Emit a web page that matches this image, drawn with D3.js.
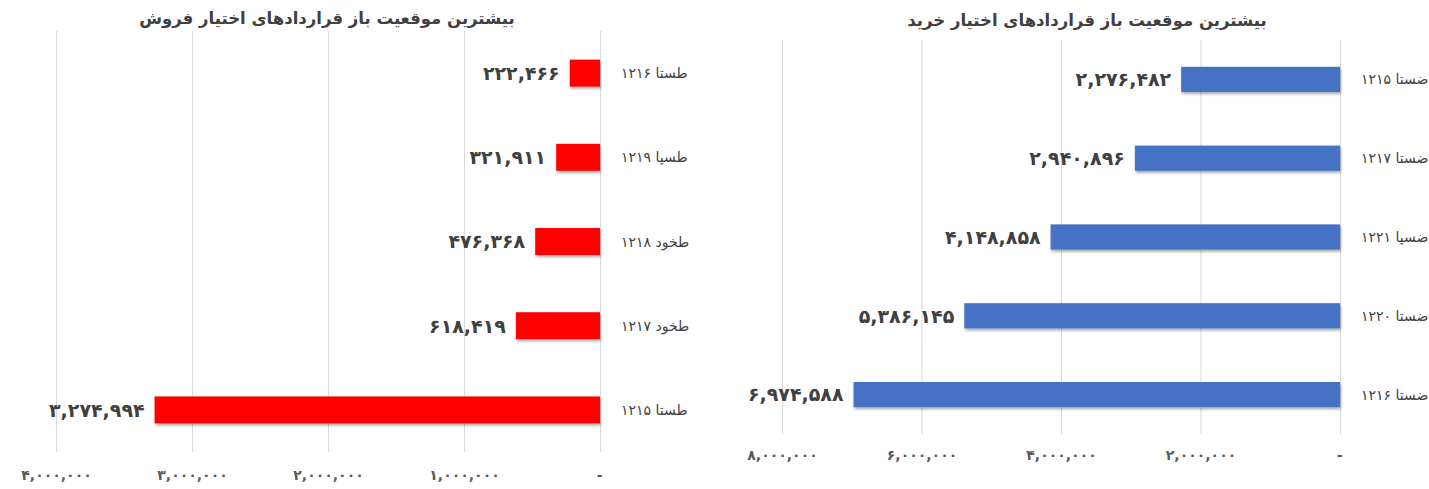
<!DOCTYPE html>
<html lang="fa">
<head>
<meta charset="UTF-8"/>
<title>Open interest</title>
<script src="https://d3js.org/d3.v7.min.js"></script>
<style>
  body { margin: 0; background: #fff; }
  svg text { font-family: "DejaVu Sans", sans-serif; }
</style>
</head>
<body>
<script>
var w = 1429, h = 489;

// sell (put) options - left chart
var sellTitle = "بیشترین موقعیت باز قراردادهای اختیار فروش";
var sellCategories = ["طستا ۱۲۱۶", "طسپا ۱۲۱۹", "طخود ۱۲۱۸", "طخود ۱۲۱۷", "طستا ۱۲۱۵"];
var sellValues = [222466, 321911, 476368, 618419, 3274994];
var sellTicks = [0, 1000000, 2000000, 3000000, 4000000];

// buy (call) options - right chart
var buyTitle = "بیشترین موقعیت باز قراردادهای اختیار خرید";
var buyCategories = ["ضستا ۱۲۱۵", "ضستا ۱۲۱۷", "ضسپا ۱۲۲۱", "ضستا ۱۲۲۰", "ضستا ۱۲۱۶"];
var buyValues = [2276482, 2940896, 4148858, 5386145, 6974588];
var buyTicks = [0, 2000000, 4000000, 6000000, 8000000];

var faDigits = "۰۱۲۳۴۵۶۷۸۹";
function toFa(s) {
    return String(s).replace(/[0-9]/g, function(c) { return faDigits[+c]; });
}
var fmt = d3.format(",");

var svg = d3.select("body").append("svg")
    .attr("width", w)
    .attr("height", h);

var defs = svg.append("defs");
var shadow = defs.append("filter").attr("id", "shadow")
    .attr("x", "-5%").attr("y", "-20%").attr("width", "110%").attr("height", "150%");
shadow.append("feDropShadow")
    .attr("dx", 1).attr("dy", 2).attr("stdDeviation", 1.5)
    .attr("flood-color", "#000").attr("flood-opacity", 0.35);

function drawChart(opt) {
    var x = d3.scaleLinear()
        .domain([0, opt.ticks[opt.ticks.length - 1]])
        .range([opt.zeroX, opt.maxX]);

    var y = d3.scaleBand()
        .domain(opt.categories)
        .range([opt.top, opt.bottom])
        .paddingInner(opt.pad)
        .paddingOuter(opt.pad / 2);

    var g = svg.append("g");

    // gridlines + tick labels
    var axis = d3.axisBottom(x)
        .tickValues(opt.ticks)
        .tickSize(-(opt.bottom - opt.top))
        .tickPadding(opt.labelGap)
        .tickFormat(function(d) { return d === 0 ? "-" : toFa(fmt(d)); });

    var ax = g.append("g")
        .attr("transform", "translate(0," + opt.bottom + ")")
        .call(axis);
    ax.select(".domain").remove();
    ax.selectAll("line").attr("stroke", "#d9d9d9");
    ax.selectAll("text")
        .attr("fill", "#595959")
        .attr("font-size", "14px")
        .attr("font-weight", "bold")
        .attr("letter-spacing", "1.5px")
        .style("font-family", "DejaVu Sans, sans-serif");

    // bars
    g.selectAll("rect.bar")
        .data(opt.values)
        .enter()
        .append("rect")
        .attr("class", "bar")
        .attr("x", function(d) { return x(d); })
        .attr("y", function(d, i) { return y(opt.categories[i]); })
        .attr("width", function(d) { return x(0) - x(d); })
        .attr("height", y.bandwidth())
        .attr("fill", opt.color)
        .attr("filter", "url(#shadow)");

    // value labels
    g.selectAll("text.val")
        .data(opt.values)
        .enter()
        .append("text")
        .attr("class", "val")
        .attr("x", function(d) { return x(d) - 10; })
        .attr("y", function(d, i) { return y(opt.categories[i]) + y.bandwidth() / 2; })
        .attr("dy", "0.36em")
        .attr("text-anchor", "end")
        .attr("font-size", "19px")
        .attr("font-weight", "bold")
        .attr("fill", "#404040")
        .text(function(d) { return toFa(fmt(d)); });

    // category labels (rtl, left edge next to the axis)
    g.selectAll("text.cat")
        .data(opt.categories)
        .enter()
        .append("text")
        .attr("class", "cat")
        .attr("x", opt.zeroX + 21)
        .attr("y", function(d) { return y(d) + y.bandwidth() / 2; })
        .attr("dy", "0.36em")
        .attr("direction", "rtl")
        .attr("text-anchor", "end")
        .attr("font-size", "14px")
        .attr("fill", "#404040")
        .text(function(d) { return d; });

    // title
    g.append("text")
        .attr("x", opt.titleX)
        .attr("y", opt.titleY)
        .attr("direction", "rtl")
        .attr("text-anchor", "middle")
        .attr("font-size", "16.5px")
        .attr("font-weight", "bold")
        .attr("fill", "#404040")
        .text(opt.title);
}

drawChart({
    title: sellTitle, categories: sellCategories, values: sellValues, ticks: sellTicks,
    zeroX: 600, maxX: 56, top: 31, bottom: 452, pad: 0.68,
    labelGap: 18, color: "#ff0000", titleX: 327, titleY: 24
});

drawChart({
    title: buyTitle, categories: buyCategories, values: buyValues, ticks: buyTicks,
    zeroX: 1340, maxX: 782, top: 40, bottom: 434, pad: 0.68,
    labelGap: 16, color: "#4472c4", titleX: 1087, titleY: 26
});
</script>
</body>
</html>
